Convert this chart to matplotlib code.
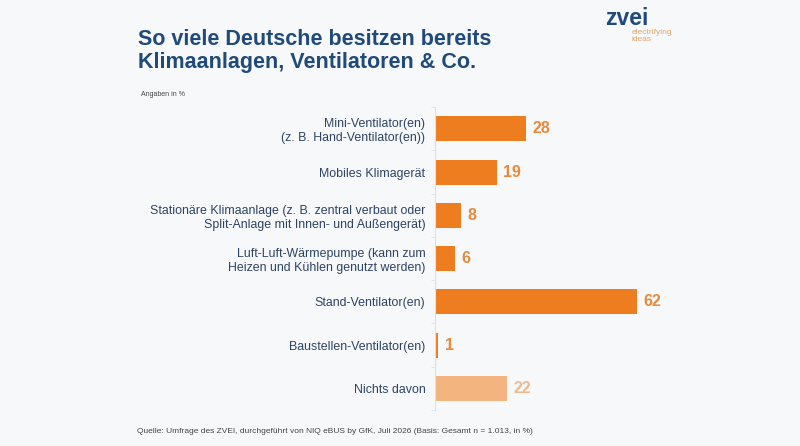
import matplotlib
import matplotlib.pyplot as plt

matplotlib.use("Agg")
plt.rcParams['font.family'] = ['Liberation Sans', 'DejaVu Sans']

# survey data (Angaben in %)
categories = ['Mini-Ventilator(en)\n(z. B. Hand-Ventilator(en))',
              'Mobiles Klimagerät',
              'Stationäre Klimaanlage (z. B. zentral verbaut oder\nSplit-Anlage mit Innen- und Außengerät)',
              'Luft-Luft-Wärmepumpe (kann zum\nHeizen und Kühlen genutzt werden)',
              'Stand-Ventilator(en)',
              'Baustellen-Ventilator(en)',
              'Nichts davon']
values = [28, 19, 8, 6, 62, 1, 22]

bg = '#f6f8fa'
orange = '#ee7d1f'
light_orange = '#f4b47f'
navy = '#1f4a7a'
label_col = '#2e4464'

colors = [orange] * 6 + [light_orange]
value_colors = ['#e8893c'] * 6 + ['#f2b88a']

fig = plt.figure(figsize=(8, 4.46), dpi=100, facecolor=bg)
ax = fig.add_axes([0.544, 0.0807, 0.407, 0.679], facecolor=bg)

pos = list(range(len(categories)))
ax.barh(pos, values, height=0.58, color=colors)
for p, v, c in zip(pos, values, value_colors):
    ax.text(v + 1.9, p, str(v), va='center', ha='left', fontsize=11.5,
            fontweight='bold', color=c)

ax.set_xlim(0, 100)
ax.set_ylim(6.5, -0.5)
ax.set_yticks(pos)
ax.set_yticklabels(categories, fontsize=8.9, color=label_col, ha='right')
ax.tick_params(axis='y', which='major', length=0, pad=7)
ax.set_yticks([p - 0.5 for p in pos] + [6.5], minor=True)
ax.tick_params(axis='y', which='minor', length=3, color='#dde1e6')
ax.set_xticks([])
for s in ['top', 'right', 'bottom']:
    ax.spines[s].set_visible(False)
ax.spines['left'].set_color('#dde1e6')

# titles and notes
fig.text(0.172, 0.935, 'So viele Deutsche besitzen bereits\nKlimaanlagen, Ventilatoren & Co.',
         fontsize=15.5, fontweight='bold', color=navy, va='top', ha='left', linespacing=1.1)
fig.text(0.176, 0.787, 'Angaben in %', fontsize=5, color='#444444', va='center')
fig.text(0.171, 0.032, 'Quelle: Umfrage des ZVEI, durchgeführt von NIQ eBUS by GfK, Juli 2026 '
         '(Basis: Gesamt n = 1.013, in %)', fontsize=6, color='#444444', va='center')

# logo
fig.text(0.757, 0.944, 'zvei', fontsize=16.5, fontweight='bold', color=navy, va='baseline')
fig.text(0.790, 0.935, 'electrifying\nideas', fontsize=6, color='#e0a868', va='top',
         linespacing=0.95)

fig.savefig('out.png', dpi=100, facecolor=bg)
